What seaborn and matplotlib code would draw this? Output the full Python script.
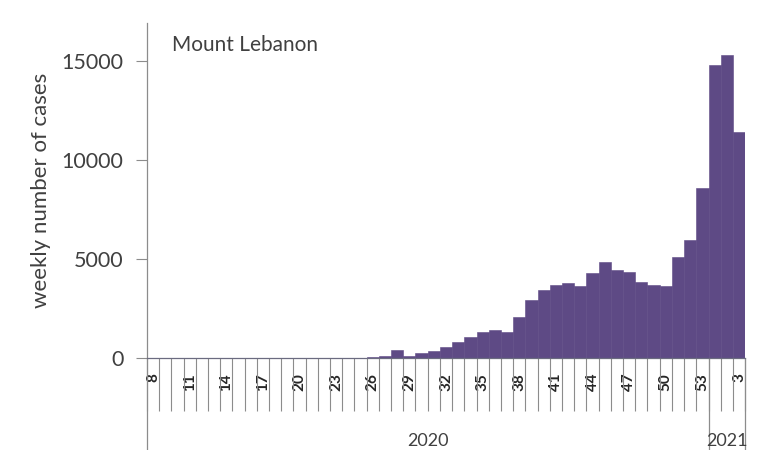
import matplotlib
matplotlib.use("Agg")
import matplotlib.pyplot as plt
import matplotlib.transforms as mtransforms
import pandas as pd
import seaborn as sns

# =========================
# Data
# =========================
WEEKS = [8, 9, 10, 11, 12, 13, 14, 15, 16, 17, 18, 19, 20, 21, 22, 23, 24,
         25, 26, 27, 28, 29, 30, 31, 32, 33, 34, 35, 36, 37, 38, 39, 40, 41,
         42, 43, 44, 45, 46, 47, 48, 49, 50, 51, 52, 53, 1, 2, 3]
CASES = [1, 3, 10, 20, 25, 20, 15, 10, 5, 4, 3, 8, 10, 5, 8, 10, 12,
         15, 30, 100, 380, 120, 250, 330, 560, 800, 1050, 1300, 1420, 1300,
         2080, 2950, 3430, 3680, 3800, 3620, 4300, 4850, 4460, 4350, 3850,
         3700, 3620, 5100, 5950, 8600, 14800, 15300, 11400]
YEARS = ["2020", "2021"]
WEEKS_PER_YEAR = [46, 3]
Y_TICKS = [0, 5000, 10000, 15000]
TITLE = "Mount Lebanon"
Y_LABEL = "weekly number of cases"

# =========================
# Style
# =========================
BAR_COLOR = "#5e4a85"
TEXT_COLOR = "#404040"
AXIS_COLOR = "#8c8c8c"

sns.set_theme(style="white")
plt.rcParams["font.family"] = ["Lato", "DejaVu Sans"]


def main():
    df = pd.DataFrame({"week": [str(w) for w in WEEKS], "cases": CASES})

    fig = plt.figure(figsize=(7.73, 4.5), dpi=100)
    ax = fig.add_axes([0.190, 0.2044, 0.774, 0.7445])

    sns.barplot(data=df, x="week", y="cases", order=list(df["week"]),
                color=BAR_COLOR, saturation=1, width=1.0,
                edgecolor=BAR_COLOR, linewidth=0.4, ax=ax)

    n = len(WEEKS)
    ax.set_xlim(-0.5, n - 0.5)
    ax.set_ylim(0, 16900)

    # y axis
    ax.set_yticks(Y_TICKS)
    ax.set_yticklabels([str(t) for t in Y_TICKS], fontsize=15.5, color=TEXT_COLOR)
    ax.tick_params(axis="y", length=8, width=0.8, color=AXIS_COLOR, pad=9,
                   left=True)
    ax.set_ylabel(Y_LABEL, fontsize=16, color=TEXT_COLOR)
    ax.yaxis.set_label_coords(-0.16, 0.5)

    # x axis: week labels every 3rd category, tick marks between categories
    major = list(range(0, n, 3))
    ax.set_xticks(major)
    ax.set_xticklabels([str(WEEKS[i]) for i in major], rotation=90,
                       fontsize=11, color="#262626", fontweight="bold")
    ax.set_xticks([i - 0.5 for i in range(n + 1)], minor=True)
    ax.tick_params(axis="x", which="major", length=0, pad=11, bottom=True)
    ax.tick_params(axis="x", which="minor", length=38, width=0.8,
                   color=AXIS_COLOR, direction="out", bottom=True)
    ax.set_xlabel("")

    for s in ["top", "right"]:
        ax.spines[s].set_visible(False)
    for s in ["left", "bottom"]:
        ax.spines[s].set_color(AXIS_COLOR)
        ax.spines[s].set_linewidth(0.9)
    ax.spines["bottom"].set_color("#6b6b80")

    # year level of the category axis
    trans = mtransforms.blended_transform_factory(ax.transData, ax.transAxes)
    start = 0
    ax.plot([-0.5, -0.5], [0, -0.3], transform=trans, color=AXIS_COLOR,
            lw=0.9, clip_on=False)
    for year, count in zip(YEARS, WEEKS_PER_YEAR):
        end = start + count
        ax.plot([end - 0.5, end - 0.5], [0, -0.3], transform=trans,
                color=AXIS_COLOR, lw=0.9, clip_on=False)
        ax.text((start + end - 1) / 2, -0.247, year, transform=trans,
                ha="center", va="center", fontsize=13, color=TEXT_COLOR)
        start = end

    ax.text(0.042, 0.934, TITLE, transform=ax.transAxes, ha="left",
            va="center", fontsize=15, color=TEXT_COLOR)

    fig.savefig("out.png", dpi=100)
    plt.close(fig)


if __name__ == "__main__":
    main()
